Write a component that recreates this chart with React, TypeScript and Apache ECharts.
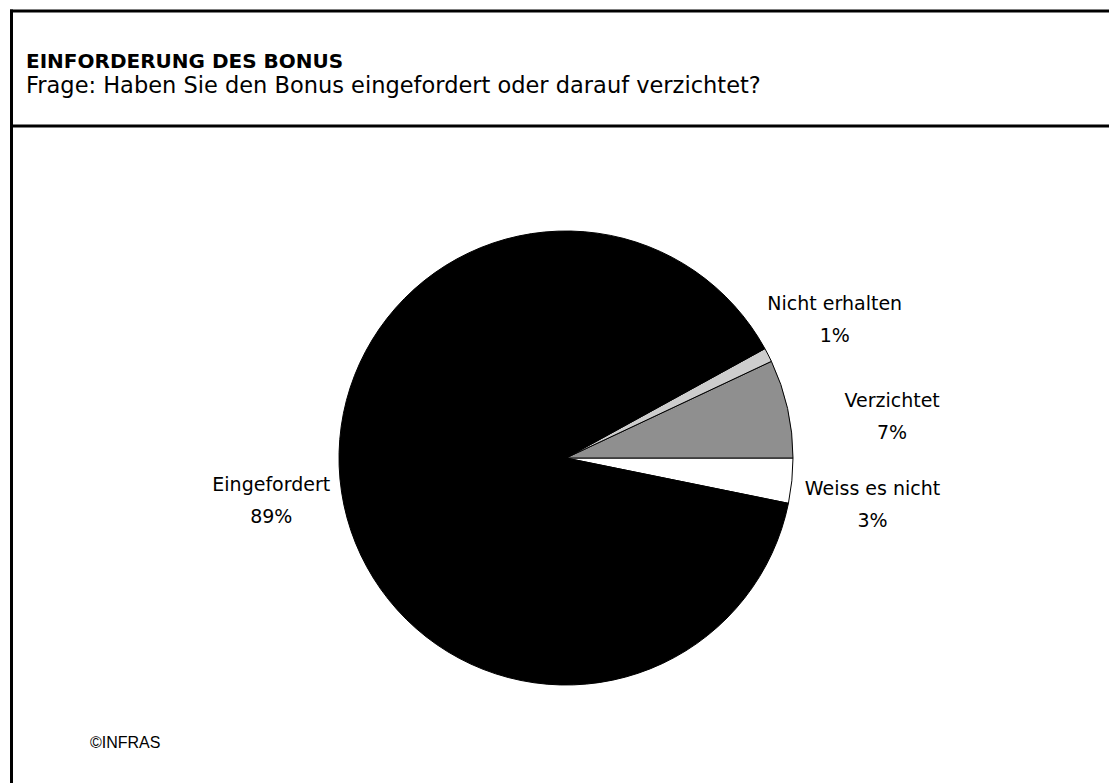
import React, { useEffect, useRef } from "react";
import * as echarts from "echarts";

const TITLE = "EINFORDERUNG DES BONUS";
const SUBTITLE = "Frage: Haben Sie den Bonus eingefordert oder darauf verzichtet?";
const COPYRIGHT = "©INFRAS";

const CATEGORIES = ["Weiss es nicht", "Verzichtet", "Nicht erhalten", "Eingefordert"];
const VALUES = [3.2, 7.0, 1.0, 88.8];

// styling (not data)
const COLORS = ["#ffffff", "#8f8f8f", "#cdcdcd", "#000000"];
const LABEL_SHIFT: number[][] = [
  [21, 17],
  [46, 21],
  [13, -9],
  [-11, -1],
];

export default function App() {
  const ref = useRef<HTMLDivElement>(null);

  useEffect(() => {
    if (!ref.current) return;
    const chart = echarts.init(ref.current, null, { renderer: "svg" });
    const labelFont = "DejaVu Sans";

    chart.setOption({
      animation: false,
      backgroundColor: "#ffffff",
      graphic: [
        { type: "rect", shape: { x: 10, y: 9.5, width: 1099, height: 3 }, style: { fill: "#000" } },
        { type: "rect", shape: { x: 10, y: 124.5, width: 1099, height: 3 }, style: { fill: "#000" } },
        { type: "rect", shape: { x: 10, y: 9.5, width: 3, height: 774 }, style: { fill: "#000" } },
        {
          type: "text",
          x: 26,
          y: 60.5,
          style: {
            text: TITLE,
            font: "bold 20px 'DejaVu Sans'",
            fill: "#000",
            textAlign: "left",
            textVerticalAlign: "middle",
          },
        },
        {
          type: "text",
          x: 26,
          y: 85,
          style: {
            text: SUBTITLE,
            font: "22.5px 'DejaVu Sans'",
            fill: "#000",
            textAlign: "left",
            textVerticalAlign: "middle",
          },
        },
        {
          type: "text",
          x: 90,
          y: 742.5,
          style: {
            text: COPYRIGHT,
            font: "16px 'Liberation Sans'",
            fill: "#000",
            textAlign: "left",
            textVerticalAlign: "middle",
          },
        },
      ],
      series: [
        {
          type: "pie",
          center: [566, 458],
          radius: 227,
          startAngle: -(VALUES[0] / VALUES.reduce((a, b) => a + b, 0)) * 360,
          clockwise: false,
          avoidLabelOverlap: false,
          minShowLabelAngle: 0,
          itemStyle: { borderColor: "#000", borderWidth: 1 },
          emphasis: { disabled: true },
          label: {
            show: true,
            position: "outside",
            color: "#000",
            fontFamily: labelFont,
            fontSize: 19,
            lineHeight: 32,
            distanceToLabelLine: 0,
            formatter: (p: any) => `${p.name}\n${Math.round(p.value)}%`,
          },
          labelLine: { show: false, length: 60, length2: 0 },
          labelLayout: (p: any) => {
            const s = LABEL_SHIFT[p.dataIndex] || [0, 0];
            return { align: "center", dx: s[0], dy: s[1] };
          },
          data: CATEGORIES.map((name, i) => ({
            name,
            value: VALUES[i],
            itemStyle: { color: COLORS[i] },
          })),
        },
      ],
    });

    return () => chart.dispose();
  }, []);

  return (
    <div
      ref={ref}
      style={{ position: "absolute", left: 0, top: 0, width: 1109, height: 783 }}
    />
  );
}
